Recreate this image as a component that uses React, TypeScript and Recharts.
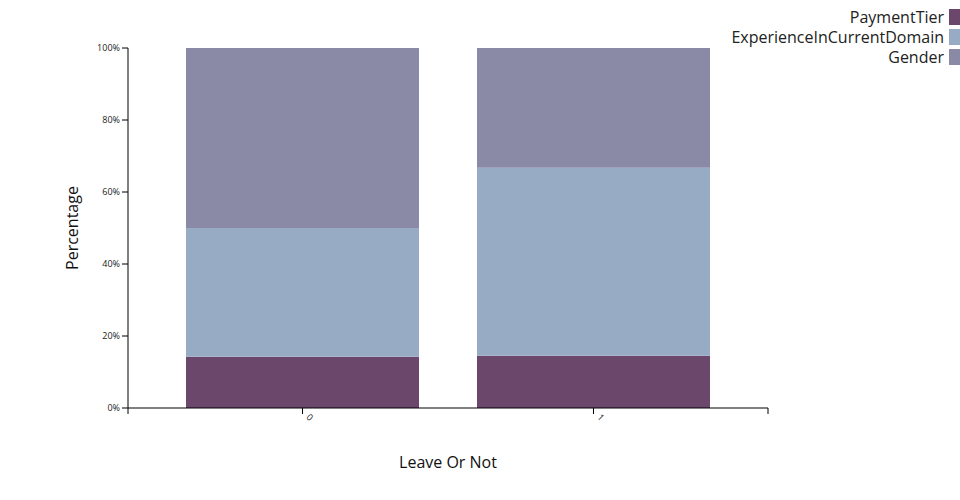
import React from "react";
import { Bar, BarChart, Customized, XAxis, YAxis } from "recharts";

// categories on the x axis
const categories = ["0", "1"];

// stacked shares (percent) per category, bottom to top
const paymentTier = [14.25, 14.5];
const experienceInCurrentDomain = [35.75, 52.25];
const gender = [50, 33.25];

const yTicks = [0, 20, 40, 60, 80, 100];

const series = [
  { key: "PaymentTier", values: paymentTier, color: "#6B476B" },
  { key: "ExperienceInCurrentDomain", values: experienceInCurrentDomain, color: "#97ABC4" },
  { key: "Gender", values: gender, color: "#8A8AA7" },
];

const W = 960;
const H = 500;
const Y_AXIS_W = 60;
const X_AXIS_H = 30;
const M = { top: 48, right: 192, bottom: 92 - X_AXIS_H, left: 128 - Y_AXIS_W };
const PLOT_LEFT = M.left + Y_AXIS_W;
const PLOT_BOTTOM = H - M.bottom - X_AXIS_H;
const PLOT_RIGHT = W - M.right;
const FONT = "'Open Sans', sans-serif";

const data = categories.map((c, i) => {
  const row: Record<string, string | number> = { name: c };
  for (const s of series) row[s.key] = s.values[i];
  return row;
});

function XTick(props: any) {
  const { x, y, payload } = props;
  return (
    <text
      transform={`translate(${x + 5},${y}) rotate(45)`}
      fontSize={9}
      fontFamily={FONT}
      fill="#222"
      textAnchor="start"
      dominantBaseline="middle"
    >
      {payload.value}
    </text>
  );
}

// axis titles and the x axis end ticks
function Decor() {
  return (
    <g>
      <line x1={PLOT_LEFT} y1={PLOT_BOTTOM} x2={PLOT_LEFT} y2={PLOT_BOTTOM + 6} stroke="#000" />
      <line x1={PLOT_RIGHT} y1={PLOT_BOTTOM} x2={PLOT_RIGHT} y2={PLOT_BOTTOM + 6} stroke="#000" />
      <text
        transform={`translate(78,${(M.top + PLOT_BOTTOM) / 2}) rotate(-90)`}
        textAnchor="middle"
        fontSize={16}
        fontFamily={FONT}
        fill="#111"
      >
        Percentage
      </text>
      <text
        x={(PLOT_LEFT + PLOT_RIGHT) / 2}
        y={468}
        textAnchor="middle"
        fontSize={16}
        fontFamily={FONT}
        fill="#111"
      >
        Leave Or Not
      </text>
    </g>
  );
}

export default function App() {
  return (
    <div style={{ position: "absolute", left: 0, top: 0, width: W, height: H, background: "#fff" }}>
      <BarChart width={W} height={H} data={data} margin={M} barCategoryGap={29}>
        <XAxis
          dataKey="name"
          padding={{ left: 29, right: 29 }}
          height={X_AXIS_H}
          tickSize={6}
          stroke="#000"
          tick={<XTick />}
          interval={0}
        />
        <YAxis
          width={Y_AXIS_W}
          domain={[0, 100]}
          ticks={yTicks}
          tickSize={6}
          stroke="#000"
          tickFormatter={(v) => `${v}%`}
          tick={{ fontSize: 9, fontFamily: FONT, fill: "#222" }}
          interval={0}
        />
        {series.map((s) => (
          <Bar key={s.key} dataKey={s.key} stackId="a" fill={s.color} isAnimationActive={false} />
        ))}
        <Customized component={Decor} />
      </BarChart>
      <div
        style={{
          position: "absolute",
          top: 7,
          right: 0,
          fontFamily: FONT,
          fontSize: 16,
          color: "#222",
        }}
      >
        {series.map((s) => (
          <div key={s.key} style={{ display: "flex", alignItems: "center", justifyContent: "flex-end", height: 20 }}>
            <span style={{ lineHeight: "20px" }}>{s.key}</span>
            <span style={{ display: "inline-block", width: 11, height: 16, background: s.color, marginLeft: 5 }} />
          </div>
        ))}
      </div>
    </div>
  );
}
